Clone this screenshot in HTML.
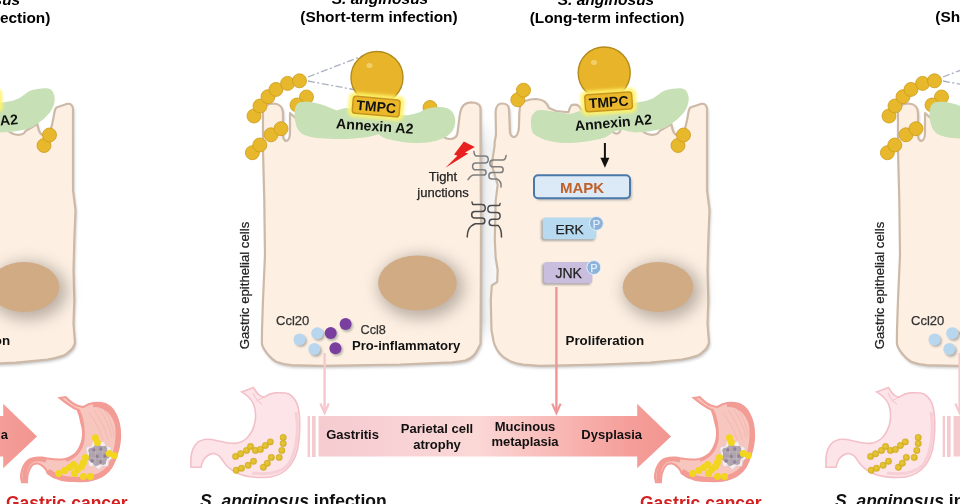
<!DOCTYPE html>
<html><head><meta charset="utf-8">
<style>
html,body{margin:0;padding:0;background:#fff;width:960px;height:504px;overflow:hidden}
svg{display:block;filter:blur(0.35px)}
text{font-family:"Liberation Sans",sans-serif}
.b{font-weight:bold}
</style></head><body>
<svg width="960" height="504" viewBox="0 0 960 504">
<defs>
  <linearGradient id="arrowG" x1="318" y1="0" x2="672" y2="0" gradientUnits="userSpaceOnUse">
    <stop offset="0" stop-color="#F5CBCF"/>
    <stop offset="0.2" stop-color="#F8D1D4"/>
    <stop offset="0.45" stop-color="#FBD7D6"/>
    <stop offset="0.72" stop-color="#F8B3AF"/>
    <stop offset="0.88" stop-color="#F59E99"/>
    <stop offset="1" stop-color="#F29590"/>
  </linearGradient>
  <filter id="blur3" x="-50%" y="-50%" width="200%" height="200%"><feGaussianBlur stdDeviation="3"/></filter>
  <filter id="blur2" x="-50%" y="-50%" width="200%" height="200%"><feGaussianBlur stdDeviation="1.6"/></filter>
  <filter id="blurB" x="-20%" y="-50%" width="140%" height="200%"><feGaussianBlur stdDeviation="0.6"/></filter>
  <filter id="blur1" x="-50%" y="-50%" width="200%" height="200%"><feGaussianBlur stdDeviation="0.8"/></filter>
  <filter id="blur8" x="-50%" y="-50%" width="200%" height="200%"><feGaussianBlur stdDeviation="7.5"/></filter>
  <filter id="blur6" x="-50%" y="-50%" width="200%" height="200%"><feGaussianBlur stdDeviation="6"/></filter>

  <linearGradient id="gapG" x1="0" y1="0" x2="1" y2="0"><stop offset="0" stop-color="#D4D4D4"/><stop offset="0.45" stop-color="#F0F0F0"/><stop offset="1" stop-color="#F8F8F8"/></linearGradient>
  <linearGradient id="gapV" x1="0" y1="0" x2="0" y2="1"><stop offset="0" stop-color="#000"/><stop offset="0.15" stop-color="#fff"/><stop offset="0.9" stop-color="#fff"/><stop offset="1" stop-color="#000"/></linearGradient>
  <mask id="gapM" maskContentUnits="userSpaceOnUse"><rect x="470" y="115" width="40" height="230" fill="url(#gapV)"/></mask>
  <radialGradient id="sbac" cx="0.45" cy="0.45" r="0.6"><stop offset="0" stop-color="#E8C93A"/><stop offset="0.7" stop-color="#DDBA28"/><stop offset="1" stop-color="#CDA820"/></radialGradient>
  <g id="bac"><circle r="7" fill="#E8B82C" stroke="#CC9B1C" stroke-width="0.8"/></g>

  <g id="fig">
    <!-- titles -->
    <text class="b" font-style="italic" font-size="15.5" x="380" y="4" text-anchor="middle">S. anginosus</text>
    <text class="b" font-size="15.4" x="379" y="22" text-anchor="middle">(Short-term infection)</text>
    <text class="b" font-style="italic" font-size="15.5" x="606" y="5" text-anchor="middle">S. anginosus</text>
    <text class="b" font-size="15.4" x="607" y="23" text-anchor="middle">(Long-term infection)</text>

    <rect x="479" y="115" width="18" height="230" fill="url(#gapG)" mask="url(#gapM)"/>
    <!-- cell shadows -->
    <path d="M263,112 C263,106 268,103.5 274,103.5 C280,104 283,108 283,113 L283,136 C283,140 286,142 288,140 C290,138 290,135 290,132 L290,113 L300,122 L372,132 L440,134 C443,137 446,139 450,139 C454,139 457,137 457.5,133 L459.5,116.8 C460,112 461.5,107 464,104.8 C466,103 468,102.6 471,102.4 C476,102.4 480,104 480.5,108 L480.5,160 L481,220 L480.8,280 L480.5,343.8 C478.5,348 477,351.5 474.5,354.5 C472,357.5 469,359.3 465,360.5 C460,361.5 456,362 451.9,362.3 L440,362.9 L400,364.5 L321.4,365.8 L291.7,365.2 C285,364.5 280,363.2 276.2,361.7 C272,359.5 270,357 267.9,354.5 C265,351 262.5,347.5 261.9,343.8 L262,330 L263,300 L265,255 L264.3,200 L263,150 Z" fill="#8f8f8f" opacity="0.55" transform="translate(1.2,2.2)" filter="url(#blur2)"/>
    <path d="M495.6,112 C496,106 498,103.5 502,103.5 C507,103.5 509,106 509,110 L510,133 C511,137 514,138 516,136 C518,134 519,130 519,125 L519.4,112 C520,104 522,101 525,101 C529,99.5 532,99 534.9,99 C539,99.2 542.5,100.2 544.8,101.9 C546.8,103.5 548,105.5 548.8,107.9 L556,111 L566,112 C567.5,111.9 568,111.9 568.7,111.9 C569.5,108 570.5,105.5 572.6,104.9 C575,104.5 577.5,105 578.6,105.9 C579.8,107 580.3,108 580.6,108.9 L605,126 L611,128 C612,131.5 614,133.6 616.5,133.6 C619,133.6 620.5,131 621,128 L640,129 C643,131 645,134.8 652,134.8 C657,134.8 659,132.5 659.5,131 L671.4,124 C672,128 673,132 675,134 C678,136 682,135 684,131 C686,127 687.5,118 688.5,112 C689,109 689.5,108 691,107.2 L701.5,103.8 C704.5,103.5 706.5,105 707,108.5 L707,150 L707,190 L709.5,210 L708.3,240 L707.5,270 L708.3,300 L707.5,323.8 L709,342.9 C708,346.5 706.5,349 704,350.8 C702,352.8 700,354.3 697.6,355.6 C692,357.5 687,358.7 681.7,359.5 L650,362.7 L600,364.5 L540,365.8 L523.3,364.6 C518,363.8 514.5,362.8 511.4,361.7 C507.5,359.8 505,358.2 503.1,356.9 C500.5,354.5 498.5,352 497.1,349.8 C495.5,347 494.2,344 493.6,341.4 L491.5,330 L490.8,300 L491.8,285.5 L497.2,282 L497.7,270 L495.7,258 L494.8,240 L495.7,200.6 L497.7,184.7 L491.7,164.8 L494.7,145 C494,141 496,138 496,134 Z" fill="#8f8f8f" opacity="0.55" transform="translate(1.2,2.2)" filter="url(#blur2)"/>
    <!-- left cell -->
    <path d="M263,112 C263,106 268,103.5 274,103.5 C280,104 283,108 283,113 L283,136 C283,140 286,142 288,140 C290,138 290,135 290,132 L290,113 L300,122 L372,132 L440,134 C443,137 446,139 450,139 C454,139 457,137 457.5,133 L459.5,116.8 C460,112 461.5,107 464,104.8 C466,103 468,102.6 471,102.4 C476,102.4 480,104 480.5,108 L480.5,160 L481,220 L480.8,280 L480.5,343.8 C478.5,348 477,351.5 474.5,354.5 C472,357.5 469,359.3 465,360.5 C460,361.5 456,362 451.9,362.3 L440,362.9 L400,364.5 L321.4,365.8 L291.7,365.2 C285,364.5 280,363.2 276.2,361.7 C272,359.5 270,357 267.9,354.5 C265,351 262.5,347.5 261.9,343.8 L262,330 L263,300 L265,255 L264.3,200 L263,150 Z" fill="#FDF0E3" stroke="#CDB9A7" stroke-width="2.2" stroke-linejoin="round"/>
    <!-- right cell -->
    <path d="M495.6,112 C496,106 498,103.5 502,103.5 C507,103.5 509,106 509,110 L510,133 C511,137 514,138 516,136 C518,134 519,130 519,125 L519.4,112 C520,104 522,101 525,101 C529,99.5 532,99 534.9,99 C539,99.2 542.5,100.2 544.8,101.9 C546.8,103.5 548,105.5 548.8,107.9 L556,111 L566,112 C567.5,111.9 568,111.9 568.7,111.9 C569.5,108 570.5,105.5 572.6,104.9 C575,104.5 577.5,105 578.6,105.9 C579.8,107 580.3,108 580.6,108.9 L605,126 L611,128 C612,131.5 614,133.6 616.5,133.6 C619,133.6 620.5,131 621,128 L640,129 C643,131 645,134.8 652,134.8 C657,134.8 659,132.5 659.5,131 L671.4,124 C672,128 673,132 675,134 C678,136 682,135 684,131 C686,127 687.5,118 688.5,112 C689,109 689.5,108 691,107.2 L701.5,103.8 C704.5,103.5 706.5,105 707,108.5 L707,150 L707,190 L709.5,210 L708.3,240 L707.5,270 L708.3,300 L707.5,323.8 L709,342.9 C708,346.5 706.5,349 704,350.8 C702,352.8 700,354.3 697.6,355.6 C692,357.5 687,358.7 681.7,359.5 L650,362.7 L600,364.5 L540,365.8 L523.3,364.6 C518,363.8 514.5,362.8 511.4,361.7 C507.5,359.8 505,358.2 503.1,356.9 C500.5,354.5 498.5,352 497.1,349.8 C495.5,347 494.2,344 493.6,341.4 L491.5,330 L490.8,300 L491.8,285.5 L497.2,282 L497.7,270 L495.7,258 L494.8,240 L495.7,200.6 L497.7,184.7 L491.7,164.8 L494.7,145 C494,141 496,138 496,134 Z" fill="#FDF0E3" stroke="#CDB9A7" stroke-width="2.2" stroke-linejoin="round"/>

    <!-- gap shading between cells -->
    <path d="M482,110 L482,352" stroke="#B5B5B5" stroke-width="2.2" opacity="0.7" filter="url(#blur1)"/>

    <!-- nuclei -->
    <ellipse cx="421" cy="287" rx="43" ry="32" fill="#7d7068" opacity="0.5" filter="url(#blur8)"/>
    <ellipse cx="417.4" cy="283" rx="39.3" ry="27.6" fill="#D0AB84"/>
    <ellipse cx="662" cy="291" rx="39" ry="29" fill="#7d7068" opacity="0.5" filter="url(#blur8)"/>
    <ellipse cx="658" cy="287" rx="35.3" ry="25" fill="#D0AB84"/>

    <!-- vertical label -->
    <text font-size="13.2" fill="#222" transform="translate(249,349.3) rotate(-90)" stroke="#222" stroke-width="0.25">Gastric epithelial cells</text>

    <!-- bacteria chains left -->
    <use href="#bac" x="254" y="116"/>
    <use href="#bac" x="260" y="106"/>
    <use href="#bac" x="268" y="96.7"/>
    <use href="#bac" x="276" y="89.4"/>
    <use href="#bac" x="287.6" y="83.4"/>
    <use href="#bac" x="299.5" y="80.8"/>
    <use href="#bac" x="306.5" y="97"/>
    <use href="#bac" x="297" y="105"/>
    <use href="#bac" x="252.4" y="152.7"/>
    <use href="#bac" x="259.8" y="145"/>
    <use href="#bac" x="271" y="134.8"/>
    <use href="#bac" x="281" y="128.7"/>
    <!-- right cell pairs -->
    <use href="#bac" x="517.8" y="99.8"/>
    <use href="#bac" x="523.5" y="90.2"/>
    <use href="#bac" x="678" y="145.5"/>
    <use href="#bac" x="683.5" y="135"/>

    <!-- dashed zoom lines -->
    <path d="M308,77 L365,55 M308,81 L356,90" stroke="#A9B0C2" stroke-width="1.3" stroke-dasharray="7 2.5 2 2.5" fill="none"/>

    <use href="#bac" x="430" y="107.5"/>
    <!-- annexin blobs -->
    <path d="M294.5,114.8 C294.5,106 297,102 302,101.9 C307,101.5 312,101.6 319.8,103.9 C325,105.5 330,107.5 336.6,110.4 C339,109.5 342,108.5 345.6,107.9 L399.5,114.7 C403,115.2 405,115.5 408.2,115.2 C412,114.5 415,113.5 419.1,112.5 C423,110.5 426,109 430,108.1 C434,107.3 437,107 441,107 C445,107.3 448.5,108.5 450.8,110.3 C453.5,113 455,116 455.2,120.1 C455.5,124 454.8,127 453,130 C451,133 449,135 446.4,136.5 C443,138.5 439.5,140 435.5,140.9 C430,142 425,142.8 419.1,143 C413,143 408,142.6 402.8,141.9 C397,141 391.5,140 386.4,138.7 C383,137.8 380.5,136 378.7,134.3 C376,135 373,136 369.4,136.7 C362,137.8 356,138.5 349.5,138.7 C343,139 336,138.9 329.7,138.7 C324,138.5 319,138.3 314.8,137.7 C309,136.7 305,135.5 301.9,133.7 C299,131.5 297,128.5 296,124.8 C295,121 294.5,118 294.5,114.8 Z" fill="#C7E0B6" filter="url(#blurB)"/>
    <path d="M531,124.8 C530.5,119 531.5,115 533.9,112.9 C535.5,111 537.5,110 539.9,109.9 C543,109.8 546.5,110.3 549.8,110.9 C553,111.4 556.5,111.9 559.7,112.4 C563,113 566.5,113.6 569.6,113.8 C573,113.5 576.5,111.8 579.6,110.9 L584.5,109.9 L632.1,103.8 C634.5,103 637,102.4 639.3,102 C644,101.5 649,100 653.6,97.9 C656.5,96 659,93.8 661.9,91.9 C665,90.2 668,89.3 671.4,88.9 C674.5,88.4 678,88.2 681,88.3 C684,88.8 686,90 686.9,91.9 C688.3,94.5 689,97.5 688.7,100.2 C688.3,103.5 687.3,106.8 685.7,109.8 C683.3,113.5 680.5,116.5 677.4,119.3 C673.5,122.5 669.5,125.3 665.5,127.6 C660.5,129.5 655.5,130.6 650,131.2 C645,131.8 640.5,132.2 635.7,132.4 C631,132.2 627,131.3 623.8,130 C620,130.3 617,130.6 614.3,131.2 C611,133.5 608,136 605,137.5 C598,139.5 591,141 584.5,141.8 C578,142.6 571,143 564.7,143 C558,142.8 551,141.5 544.8,139.7 C540.5,138.3 536,136 532.9,133.2 C531.5,130.5 531.2,127.5 531,124.8 Z" fill="#C7E0B6" filter="url(#blurB)"/>

    <!-- big balls -->
    <circle cx="377" cy="77.5" r="26" fill="#E8B52A" stroke="#B38A1C" stroke-width="1.4"/>
    <ellipse cx="369.5" cy="65.5" rx="3" ry="2.5" fill="#F2CF66"/>
    <circle cx="604.2" cy="73" r="26" fill="#E8B52A" stroke="#B38A1C" stroke-width="1.4"/>
    <ellipse cx="594" cy="62.5" rx="3" ry="2.5" fill="#F2CF66"/>

    <!-- TMPC boxes -->
    <g transform="translate(376.2,106.6) rotate(5)">
      <rect x="-28" y="-12.5" width="56" height="25" rx="6" fill="#FFF36A" opacity="0.9" filter="url(#blur2)"/>
      <rect x="-23.5" y="-8.5" width="47" height="17" rx="3" fill="#EBB82C" stroke="#C8961C" stroke-width="1.5"/>
      <text class="b" font-size="14" x="0" y="5" text-anchor="middle" fill="#111">TMPC</text>
    </g>
    <text class="b" font-size="14.2" transform="translate(374.5,131) rotate(4)" text-anchor="middle" fill="#111">Annexin A2</text>
    <g transform="translate(608.6,101.9) rotate(-4)">
      <rect x="-28" y="-12.5" width="56" height="25" rx="6" fill="#FFF36A" opacity="0.9" filter="url(#blur2)"/>
      <rect x="-23.5" y="-8.5" width="47" height="17" rx="3" fill="#EBB82C" stroke="#C8961C" stroke-width="1.5"/>
      <text class="b" font-size="14" x="0" y="5" text-anchor="middle" fill="#111">TMPC</text>
    </g>
    <text class="b" font-size="14.2" transform="translate(613.8,127.4) rotate(-5)" text-anchor="middle" fill="#111">Annexin A2</text>

    <!-- lightning -->
    <path d="M463.9,141.5 L474.8,147 L465,152.5 L468.3,153.5 L445.4,167.7 L457.4,155.7 L454.1,154.6 Z" fill="#E8201E"/>
    <text font-size="13" x="443" y="180.8" text-anchor="middle" fill="#222" stroke="#222" stroke-width="0.25">Tight</text>
    <text font-size="13" x="443" y="196.5" text-anchor="middle" fill="#222" stroke="#222" stroke-width="0.25">junctions</text>

    <!-- tight junction squiggles -->
    <g fill="none" stroke-width="1.5" stroke-linecap="round">
<path d="M473.9,151.4 Q474.4,156.0 476.5,156.0 L484.8,156.0 C489.4,156.0 489.4,163.0 484.8,163.0 L475.9,163.0 C471.5,163.0 471.5,169.8 475.9,169.8 L483.5,169.8 C486.9,169.8 486.9,175.0 483.5,175.0 L474.0,175.0 Q471.0,175.0 468.0,179.7" stroke="#7d7d7d"/>
<path d="M506.1,155.4 Q505.5,160.0 503.0,160.0 L493.2,160.0 C488.8,160.0 488.8,166.8 493.2,166.8 L500.4,166.8 C504.1,166.8 504.1,172.5 500.4,172.5 L492.0,172.5 C487.8,172.5 487.8,179.0 492.0,179.0 L497.0,179.0 C500.7,181.0 501.5,184.0 501.0,187.0" stroke="#7d7d7d"/>
<path d="M472.0,202.1 Q472.3,204.5 473.4,204.5 L481.8,204.5 C486.4,204.5 486.4,211.5 481.8,211.5 L474.8,211.5 C470.6,211.5 470.6,218.0 474.8,218.0 L482.0,218.0 C485.8,218.0 485.8,223.8 482.0,223.8 L475.3,223.8 C468.5,226.4 467.5,231.2 467.2,236.9" stroke="#4a4a4a"/>
<path d="M500.1,203.5 Q499.9,205.5 499.0,205.5 L491.3,205.5 C486.7,205.5 486.7,212.6 491.3,212.6 L496.8,212.6 C501.2,212.6 501.2,219.3 496.8,219.3 L492.2,219.3 C488.2,219.3 488.2,225.5 492.2,225.5 L498.2,225.5 C501.0,228.0 501.5,232.0 501.5,236.9" stroke="#4a4a4a"/>
    </g>

    <!-- chemokines -->
    <text font-size="13" x="276" y="325.3" fill="#333" stroke="#333" stroke-width="0.25">Ccl20</text>
    <text font-size="12.7" x="360.5" y="333.8" fill="#333" stroke="#333" stroke-width="0.25">Ccl8</text>
    <text class="b" font-size="13.1" x="352" y="350" fill="#111">Pro-inflammatory</text>
    <g filter="url(#blur1)" fill="#888" opacity="0.6">
      <circle cx="301" cy="341" r="6"/><circle cx="319" cy="335" r="6"/><circle cx="316" cy="351" r="6"/>
      <circle cx="332" cy="335" r="6"/><circle cx="347" cy="326" r="6"/><circle cx="337" cy="350" r="6"/>
    </g>
    <circle cx="299.5" cy="339.6" r="6" fill="#B8D7EE"/>
    <circle cx="317.2" cy="333.3" r="6" fill="#B8D7EE"/>
    <circle cx="314.3" cy="349" r="6" fill="#B8D7EE"/>
    <circle cx="330.7" cy="333" r="6" fill="#7A3F9E"/>
    <circle cx="345.6" cy="324" r="6" fill="#7A3F9E"/>
    <circle cx="335.4" cy="348.2" r="6" fill="#7A3F9E"/>

    <!-- right cell signalling -->
    <path d="M604.9,143 L604.9,160" stroke="#111" stroke-width="2"/>
    <path d="M600.4,157.8 L609.4,157.8 L604.9,167.7 Z" fill="#111"/>
    <rect x="536" y="177.5" width="96" height="23" rx="4" fill="#888" opacity="0.5" filter="url(#blur1)"/>
    <rect x="534" y="175.2" width="96" height="23" rx="4" fill="#DCEAF7" stroke="#4A78A8" stroke-width="2"/>
    <text class="b" font-size="15" x="582" y="192.5" text-anchor="middle" fill="#C0602A">MAPK</text>

    <rect x="541" y="219" width="54" height="22" rx="3" fill="#777" opacity="0.6" filter="url(#blur1)"/>
    <rect x="542.8" y="217.5" width="53.6" height="21.8" rx="3" fill="#B8DAF0"/>
    <text font-size="13.7" x="555.5" y="234.1" fill="#222" stroke="#222" stroke-width="0.25">ERK</text>
    <circle cx="596.4" cy="223.4" r="7" fill="#8DB3DA" stroke="#E8F1FA" stroke-width="1"/>
    <text font-size="11" x="596.4" y="227.5" text-anchor="middle" fill="#E6F0FA" stroke="#E6F0FA" stroke-width="0.25">P</text>

    <rect x="542" y="263.5" width="49" height="21.5" rx="3" fill="#777" opacity="0.6" filter="url(#blur1)"/>
    <rect x="543.8" y="261.9" width="48.6" height="21.4" rx="3" fill="#C9BEDD"/>
    <text font-size="14" x="555.5" y="277.8" fill="#222" stroke="#222" stroke-width="0.25">JNK</text>
    <circle cx="593.8" cy="267.5" r="7" fill="#8DB3DA" stroke="#E8F1FA" stroke-width="1"/>
    <text font-size="11" x="593.8" y="271.6" text-anchor="middle" fill="#E6F0FA" stroke="#E6F0FA" stroke-width="0.25">P</text>

    <text class="b" font-size="13.35" x="565.5" y="345" fill="#111">Proliferation</text>

    <!-- pink vertical lines -->
    <path d="M324.6,353 L324.6,412" stroke="#F5C8CD" stroke-width="2.4"/>
    <path d="M320.4,403.5 L324.6,413 L328.8,403.5" stroke="#F5C8CD" stroke-width="2.2" fill="none"/>
    <path d="M556.4,287 L556.4,412" stroke="#F09696" stroke-width="2.4"/>
    <path d="M552.2,403.6 L556.4,413 L560.6,403.6" stroke="#F09696" stroke-width="2.2" fill="none"/>

    <!-- big arrow -->
    <rect x="307.6" y="416" width="2.4" height="41" fill="#F5CBCF"/>
    <rect x="312" y="416" width="3.7" height="41" fill="#F5CBCF"/>
    <path d="M318.6,416 L637.2,416 L637.2,403.8 L671,436.6 L637.2,468.3 L637.2,456.5 L318.6,456.5 Z" fill="url(#arrowG)"/>
    <g class="b" font-size="13" fill="#111" text-anchor="middle" font-weight="bold">
      <text x="352.6" y="438.8">Gastritis</text>
      <text x="437" y="433.3">Parietal cell</text>
      <text x="437" y="448.6">atrophy</text>
      <text x="525" y="430.7">Mucinous</text>
      <text x="525" y="446.4">metaplasia</text>
      <text x="611.7" y="439.4">Dysplasia</text>
    </g>

    <!-- left stomach -->
    <path d="M241.5,391.9 L253.5,387.5 C255.5,391 257.5,394.5 260.4,395.9 C262,396.6 263,397 264.4,396.9 C268,394.5 271,393.2 275,392.9 C281,392.5 286,392.8 289,394 C294,397 297,402 298.3,408 C300,416 300,430 299,440 C298,452 294,463 286,470 C280,475 272,477.5 264,477.5 C256,477.5 248,477 242,475 C235,472.5 230,469.5 226,465 C223,461 221,458 219.7,456.4 C217,454 214.5,453.2 212,453.6 C208,454.5 205,457 203,461 C202,463.5 201.3,465.5 201,467.3 L191,467.3 C190.6,462 190.8,458 191.5,454 C192.5,449 194,446 197,443 C200,440.5 203,439.5 207,439.3 C212,439.2 216,440.5 221,441.5 C226,442.6 230,443.6 235,443.4 C240,443 244,441 247.5,437.5 C251.5,433 254,428 255.2,421 C256,415 255.5,409 253.5,404 C251,399 247,395 241.5,391.9 Z"
          fill="#FCE4E8" stroke="#F3C0C8" stroke-width="1.6"/>
    <path d="M253,393 C255,398 258,402 262,404 M264.4,396.9 C262,398 259,400 256.5,401" stroke="#F3C0C8" stroke-width="1" fill="none"/>
    <path d="M296,412 C299,430 297,452 288,465 C280,473 266,475 252,473" stroke="#F6D0D6" stroke-width="3" fill="none"/>
    <g fill="url(#sbac)" stroke="#C9A21A" stroke-width="0.4">
      <circle cx="235.6" cy="456.4" r="3.2"/><circle cx="240.6" cy="453.8" r="3.2"/><circle cx="246.5" cy="450.4" r="3.2"/><circle cx="250.5" cy="446.5" r="3.2"/><circle cx="255.4" cy="450.4" r="3.2"/><circle cx="260.4" cy="449.4" r="3.2"/><circle cx="265.4" cy="445.5" r="3.2"/><circle cx="270.3" cy="441.9" r="3.2"/>
      <circle cx="236.2" cy="470.3" r="3.2"/><circle cx="241.5" cy="468.3" r="3.2"/><circle cx="248.1" cy="465.3" r="3.2"/><circle cx="253.5" cy="461.3" r="3.2"/>
      <circle cx="263.4" cy="467.3" r="3.2"/><circle cx="267.3" cy="463.3" r="3.2"/><circle cx="271.3" cy="457.4" r="3.2"/>
      <circle cx="283.2" cy="437.5" r="3.2"/><circle cx="283.2" cy="443.5" r="3.2"/><circle cx="281.8" cy="450.4" r="3.2"/><circle cx="279.2" cy="457.4" r="3.2"/>
    </g>
    <!-- right stomach -->
    <path d="M693.7,397.9 L699.6,397 C703,400.5 707,404 711,405.5 C714,406.5 716,407 717.5,406.9 C721,404.5 724,403.3 727.4,402.9 C732,402.5 736,402.8 739.4,403.9 C744,406 747.5,409.5 749.3,413.8 C752,419 753.3,424 753.8,429.7 C754.5,436 754,443 752.3,449.6 C750.5,456 748.5,462 745.3,467.4 C741.5,472.5 738,475.5 733.4,477.4 C727,480.5 720,481.5 713.5,481.3 C706,481 699,480.5 693.7,479.4 C689,478.3 685,476 681.8,473.4 L679.8,469.4 C677,466 674.5,464 671.8,463.5 C669,463.2 667,464 665.9,465.5 C663.5,468 662.5,471 661.9,473.4 C661.3,476.5 661,479.5 660.9,482.3 L656,482.3 C655,479.5 654.6,477 655,475.4 C655.5,471 656.3,468 657.9,465.5 C660,461.5 662.5,459.5 665.9,458.5 C669,457.5 672.5,457.2 675.8,457.5 C678,457.8 680,458.2 681.8,458.5 C686,459.3 691,459.8 695.7,459.5 C701,459 705.5,457 709.6,453.5 C713,450 715.2,445 716.5,439.6 C717.5,434 717,428.5 715.5,423.8 C714.5,418 713.2,413.5 711.6,409.9 C706,407.5 700,403 693.7,397.9 Z"
          fill="#F7C6BE" stroke="#F29C95" stroke-width="2"/>
    <path d="M727,404.5 C738,404 748,411 751.5,425 C753.5,440 750,458 742,469 C735,477 722,480 708,479.5 C698,479 688,476 682,471" stroke="#F29C95" stroke-width="5" fill="none"/>
    <path d="M712,409 C716,416 718,428 717.5,439 C716,449 710,457 700,460.5" stroke="#F29C95" stroke-width="2.5" fill="none"/>
    <path d="M658.5,481 C658,472 660,464 666,460.5 C670,458.5 675,459 680,460.5" stroke="#F29C95" stroke-width="4" fill="none"/>
    <g stroke="#F0A8A0" stroke-width="0.6" fill="none" opacity="0.8">
      <path d="M728,410 C735,420 740,430 742,440 M733,409 C740,418 744,428 746,438 M738,410 C744,418 747,428 748,436 M723,413 C730,422 735,432 737,440"/>
    </g>
    <path d="M745.5,455.0 L746.9,457.5 L744.7,459.4 L742.4,460.7 L742.5,463.4 L741.9,466.2 L739.0,466.3 L736.4,465.7 L734.8,467.8 L732.5,469.6 L730.2,467.8 L728.6,465.7 L726.0,466.3 L723.1,466.2 L722.5,463.4 L722.6,460.7 L720.3,459.4 L718.1,457.5 L719.5,455.0 L721.3,453.0 L720.3,450.6 L719.9,447.7 L722.5,446.6 L725.2,446.3 L726.0,443.7 L727.5,441.3 L730.2,442.2 L732.5,443.6 L734.8,442.2 L737.5,441.3 L739.0,443.7 L739.8,446.3 L742.5,446.6 L745.1,447.7 L744.7,450.6 L743.7,453.0 Z" fill="#F4EEF0" stroke="#D9CCD2" stroke-width="0.6"/>
    <path d="M744.0,455.0 L743.4,457.5 L741.1,459.1 L740.2,461.1 L739.7,464.0 L737.3,465.0 L734.6,464.3 L732.5,464.9 L729.9,466.2 L727.7,465.0 L726.6,462.4 L724.8,461.1 L722.1,460.0 L721.6,457.5 L723.0,455.0 L722.9,452.8 L722.1,450.0 L723.8,448.0 L726.6,447.6 L728.2,446.1 L729.9,443.8 L732.5,443.9 L734.6,445.7 L736.8,446.1 L739.7,446.0 L741.2,448.0 L741.1,450.9 L742.1,452.8 Z" fill="#AFA3AE"/>
    <g fill="#8F8093"><circle cx="728" cy="450" r="1.8"/><circle cx="735" cy="449" r="1.8"/><circle cx="739" cy="456" r="1.8"/><circle cx="731" cy="456.5" r="1.8"/><circle cx="726" cy="461" r="1.8"/><circle cx="735" cy="462" r="1.8"/></g>
    <g stroke="#C9BCC6" stroke-width="0.5" fill="none"><path d="M724,452 L740,452 M724,458 L741,459 M730,445 L729,465 M737,446 L736,465"/></g>
    <g fill="#F1D51E">
      <circle cx="729.4" cy="437.7" r="3.5"/><circle cx="731.4" cy="442.6" r="3.5"/><circle cx="743.3" cy="453.5" r="3.5"/><circle cx="748.3" cy="455.5" r="3.5"/>
      <circle cx="719.5" cy="457.5" r="3.5"/><circle cx="717.5" cy="462.5" r="3.5"/><circle cx="715.5" cy="466.5" r="3.5"/><circle cx="711.6" cy="469.4" r="3.5"/><circle cx="708.6" cy="473.4" r="3.5"/>
      <circle cx="707.6" cy="464.5" r="3.5"/><circle cx="703.6" cy="467.4" r="3.5"/><circle cx="698.7" cy="470.4" r="3.5"/><circle cx="692.7" cy="473.4" r="3.5"/>
      <circle cx="717.5" cy="476.4" r="3.5"/><circle cx="724.5" cy="476.4" r="3.5"/>
    </g>

    <!-- bottom labels -->
    <text class="b" font-size="17.5" x="200" y="507" fill="#111"><tspan font-style="italic">S. anginosus</tspan> infection</text>
    <text class="b" font-size="17.5" x="640" y="509" fill="#D42020">Gastric cancer</text>
  </g>
</defs>
<rect width="960" height="504" fill="#fff"/>
<use href="#fig" transform="translate(-634,0)"/>
<use href="#fig"/>
<use href="#fig" transform="translate(635,0)"/>
</svg>
</body></html>
